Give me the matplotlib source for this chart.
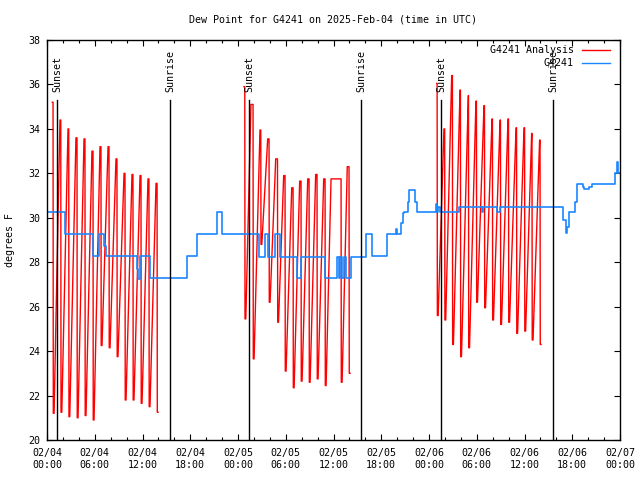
import datetime as dt
import matplotlib
matplotlib.use("Agg")
import matplotlib.pyplot as plt
import matplotlib.dates as mdates
from matplotlib.lines import Line2D

# --- data ---
start = dt.datetime(2025, 2, 4)

# analysis: hourly spikes, hours counted from each day's 00:00
peak_h1 = [0.67, 1.63, 2.64, 3.64, 4.65, 5.65, 6.66, 7.67, 8.67, 9.68, 10.68, 11.69, 12.69, 13.70]
peak_v1 = [35.2, 34.4, 34.0, 33.6, 33.55, 33.0, 33.2, 33.2, 32.65, 32.0, 31.95, 31.9, 31.75, 31.55]
trough_h1 = [0.79, 1.76, 2.76, 3.8, 4.8, 5.81, 6.81, 7.82, 8.82, 9.83, 10.83, 11.84, 12.84, 13.86]
trough_v1 = [21.2, 21.25, 21.05, 21.0, 21.1, 20.9, 24.25, 24.15, 23.75, 21.8, 21.8, 21.65, 21.5, 21.25]

peak_h2 = [0.75, 1.63, 2.76, 3.73, 4.74, 5.74, 6.75, 7.75, 8.76, 9.76, 10.77, 11.69, 13.73]
peak_v2 = [35.9, 35.1, 33.95, 33.55, 32.65, 31.9, 31.35, 31.65, 31.75, 31.95, 31.75, 31.75, 32.3]
trough_h2 = [0.88, 1.92, 2.89, 3.93, 4.99, 5.94, 6.95, 7.95, 8.96, 9.96, 10.97, 12.98, 13.98]
trough_v2 = [25.45, 23.65, 28.8, 26.2, 25.3, 23.1, 22.35, 22.65, 22.6, 22.75, 22.45, 22.6, 23.0]

peak_h3 = [0.97, 1.88, 2.85, 3.90, 4.94, 5.9, 6.91, 7.92, 8.93, 9.93, 10.94, 11.94, 12.9, 13.9]
peak_v3 = [36.05, 34.0, 36.4, 35.75, 35.5, 35.25, 35.05, 34.45, 34.4, 34.45, 34.05, 34.05, 33.8, 33.5]
trough_h3 = [1.05, 2.0, 2.97, 3.98, 4.99, 5.99, 7.0, 8.0, 9.01, 10.02, 11.03, 12.04, 12.97, 13.98]
trough_v3 = [25.6, 25.4, 24.3, 23.75, 24.15, 26.2, 25.95, 25.4, 25.2, 25.3, 24.8, 24.9, 24.5, 24.3]

# station obs (step line), hours from 02/04 00:00
obs_h = [0, 2.32, 5.82, 6.53, 7.2, 7.41, 11.27, 11.47, 11.65, 12.88, 17.55, 18.81, 21.42, 21.95,
         26.64, 27.33, 27.73, 28.65, 29.28, 31.38, 31.92, 34.93, 36.4, 36.63, 36.82, 37.07,
         37.32, 37.57, 38.16, 40.05, 40.88, 41.22, 42.76, 43.82, 44.02, 44.23, 44.48, 44.7,
         44.9, 45.36, 45.52, 46.24, 46.46, 46.58, 48.84, 49.01, 49.19, 49.38, 51.81, 54.62,
         54.82, 56.51, 56.92, 64.88, 65.18, 65.34, 65.63, 66.35, 66.64, 67.31, 67.48, 68.14,
         68.45, 71.41, 71.59, 71.71, 72]
obs_v = [30.25, 29.26, 28.28, 29.26, 28.73, 28.28, 27.7, 27.23, 28.28, 27.27, 28.28, 29.26, 30.25, 29.26,
         28.25, 29.26, 28.25, 29.26, 28.25, 27.27, 28.25, 27.27, 28.25, 27.27, 28.25, 27.27,
         28.25, 27.27, 28.25, 29.26, 28.28, 28.28, 29.26, 29.48, 29.26, 29.26, 29.75, 30.23,
         30.25, 30.73, 31.25, 30.73, 30.25, 30.25, 30.6, 30.25, 30.5, 30.25, 30.5, 30.25,
         30.5, 30.25, 30.5, 29.9, 29.3, 29.6, 30.25, 30.7, 31.5, 31.4, 31.28, 31.4,
         31.5, 32.0, 32.5, 32.0, 32.0]

sun_labels = ["Sunset", "Sunrise", "Sunset", "Sunrise", "Sunset", "Sunrise"]
sun_h = [1.26, 15.46, 25.38, 39.46, 49.51, 63.58]

RED = "#ff0000"
BLUE = "#1a86ff"
FONT = ["DejaVu Sans Mono"]
FS = 7.2


def t(h):
    return start + dt.timedelta(hours=h)


def spikes(day, ph, pv, th, tv):
    # peak, short hold, drop to trough, then rise to next peak
    xs, ys = [], []
    for a, b, c, d in zip(ph, pv, th, tv):
        xs += [t(24 * day + a), t(24 * day + c - 0.03), t(24 * day + c), t(24 * day + c + 0.1)]
        ys += [b, b, d, d]
    return xs, ys


plt.rcParams["font.family"] = FONT
plt.rcParams["font.size"] = FS

fig = plt.figure(figsize=(6.4, 4.8), dpi=100)
ax = fig.add_axes([47 / 640, 40 / 480, 573 / 640, 400 / 480])

for day, ph, pv, th, tv in [(0, peak_h1, peak_v1, trough_h1, trough_v1),
                            (1, peak_h2, peak_v2, trough_h2, trough_v2),
                            (2, peak_h3, peak_v3, trough_h3, trough_v3)]:
    xs, ys = spikes(day, ph, pv, th, tv)
    ax.plot(xs, ys, color=RED, lw=1.0)

ax.plot([t(h) for h in obs_h], obs_v, color=BLUE, lw=1.2, drawstyle="steps-post")

for lab, h in zip(sun_labels, sun_h):
    ax.plot([t(h), t(h)], [20, 35.3], color="black", lw=1.0)
    ax.text(t(h), 35.65, lab, rotation=90, ha="center", va="bottom", fontsize=FS)

ax.set_xlim(t(0), t(72))
ax.set_ylim(20, 38)
ax.set_yticks(range(20, 39, 2))
ax.xaxis.set_major_locator(mdates.HourLocator(byhour=[0, 6, 12, 18]))
ax.xaxis.set_minor_locator(mdates.HourLocator(byhour=range(0, 24, 2)))
ax.xaxis.set_major_formatter(mdates.DateFormatter("%m/%d\n%H:%M"))
ax.tick_params(which="major", direction="in", top=True, right=True, length=4.5, width=0.8)
ax.tick_params(which="minor", direction="in", top=True, right=True, length=2.2, width=0.8)
ax.tick_params(axis="y", pad=5)
ax.tick_params(axis="x", pad=6)
for lbl in ax.get_xticklabels():
    lbl.set_linespacing(1.15)
for s in ax.spines.values():
    s.set_linewidth(1.0)

# legend, gnuplot style: text right-aligned, key line to the right
for i, (lab, col) in enumerate([("G4241 Analysis", RED), ("G4241", BLUE)]):
    y = 0.975 - i * 0.0325
    ax.text(0.9197, y, lab, transform=ax.transAxes, ha="right", va="center", fontsize=FS)
    ax.add_line(Line2D([0.934, 0.9825], [y, y], transform=ax.transAxes, color=col, lw=1.0))

fig.text(0.52, 1 - 19 / 480, "Dew Point for G4241 on 2025-Feb-04 (time in UTC)",
         ha="center", va="center", fontsize=FS)
fig.text(10 / 640, 240 / 480, "degrees F", rotation=90, ha="center", va="center", fontsize=FS)

fig.savefig("out.png", dpi=100)
